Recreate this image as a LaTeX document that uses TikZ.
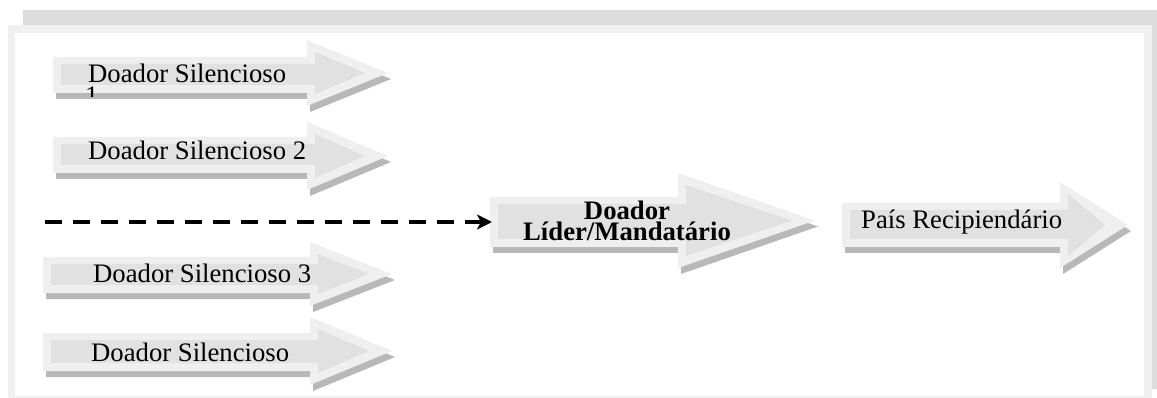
\documentclass[tikz,border=0pt]{standalone}
\usepackage{fontspec}
\setmainfont{Liberation Serif}
\usetikzlibrary{arrows.meta,calc}
\definecolor{shadowc}{HTML}{B8B8B8}
\definecolor{outerc}{HTML}{EFEFEF}
\definecolor{innerc}{HTML}{E1E1E1}
\definecolor{framec}{HTML}{F0F0F0}
\definecolor{bandc}{HTML}{DCDCDC}
% name, left, shaft top, shaft bottom, head start, head top, head bottom, tip x
\newcommand\fatarrow[8]{%
  \begin{scope}[shift={(3,6)}]
    \fill[shadowc] (#2,#3) -- (#5,#3) -- (#5,#6) -- (#8,{(#6+#7)/2}) -- (#5,#7) -- (#5,#4) -- (#2,#4) -- cycle;
  \end{scope}
  \fill[outerc] (#2,#3) -- (#5,#3) -- (#5,#6) -- (#8,{(#6+#7)/2}) -- (#5,#7) -- (#5,#4) -- (#2,#4) -- cycle;
  \fill[innerc] ({#2+8},{#3+7}) -- ({#5+8},{#3+7}) -- ({#5+8},{#6+12}) -- ({#8-23},{(#6+#7)/2}) -- ({#5+8},{#7-12}) -- ({#5+8},{#4-8}) -- ({#2+8},{#4-8}) -- cycle;
  \coordinate (#1) at (#2,{(#3+#4)/2});
}
\tikzset{
  txt/.style={inner sep=0pt, text=black, font=\fontsize{26.7pt}{28pt}\selectfont},
  txtb/.style={txt, font=\fontsize{26.7pt}{28pt}\selectfont\bfseries},
  dashline/.style={line width=4pt, dash pattern=on 17pt off 11pt, -{Stealth[length=15pt,width=15pt,inset=4pt]}}
}
\begin{document}
\begin{tikzpicture}[x=1pt,y=-1pt]
\useasboundingbox (0,0) rectangle (1157,398);
% frame
\fill[bandc] (23,10) rectangle (1157,25);
\fill[bandc] (1152,25) rectangle (1157,389);
\fill[framec] (8,25) rectangle (1152,398);
\fill[white] (15,33) rectangle (1144,396);
% arrows
\fatarrow{a1}{53}{57}{93}{307}{40}{106}{388}
\fatarrow{a2}{53}{137}{173}{307}{122}{190}{388}
\fatarrow{a3}{43}{257}{293}{310}{242}{306}{392}
\fatarrow{a4}{43}{333}{371}{310}{317}{385}{392}
\fatarrow{lead}{490}{197}{247}{678}{173}{268}{815}
\fatarrow{rec}{842}{203}{247}{1060}{182}{268}{1128}
% texts
\node[txt, anchor=base west] (t1) at (88,83) {Doador Silencioso};
\begin{scope}
  \clip (70,80) rectangle (130,97);
  \node[txt, anchor=base west] (t1b) at (85,105) {1};
\end{scope}
\node[txt, anchor=base west] (t2) at (88,160) {Doador Silencioso 2};
\node[txt, anchor=base west] (t3) at (93,283) {Doador Silencioso 3};
\node[txt, anchor=base west] (t4) at (91,361) {Doador Silencioso};
\node[txtb, anchor=base] (t5a) at (627,220) {Doador};
\node[txtb, anchor=base] (t5b) at (627,241) {Líder/Mandatário};
\node[txt, anchor=base west] (t6) at (861,229) {País Recipiendário};
% dashed connector
\coordinate (dstart) at (45,222);
\draw[dashline] (dstart) -- ([xshift=2pt]lead);
\end{tikzpicture}
\end{document}
